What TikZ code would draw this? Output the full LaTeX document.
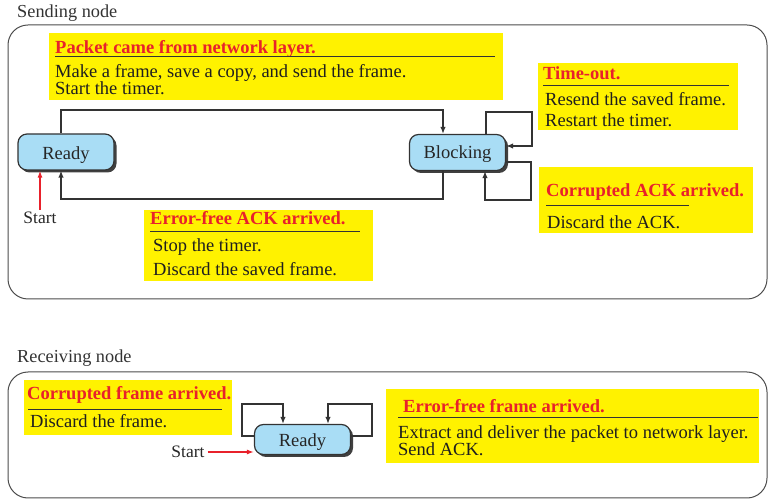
\documentclass[tikz,border=0pt]{standalone}
\usepackage{fontspec}
\setmainfont{Liberation Serif}
\usetikzlibrary{arrows.meta,shadows,calc}
\definecolor{hl}{HTML}{FFF200}
\definecolor{tred}{HTML}{E8212B}
\definecolor{sblue}{HTML}{A9DDF5}
\definecolor{ln}{HTML}{333333}
\begin{document}
\begin{tikzpicture}[x=1pt,y=-1pt,
  txt/.style={anchor=base west, inner sep=0pt, font=\fontsize{18.5}{21}\selectfont, text=black!88},
  ttl/.style={anchor=base west, inner sep=0pt, font=\fontsize{18.5}{21}\selectfont\bfseries, text=tred},
  lbl/.style={anchor=base west, inner sep=0pt, font=\fontsize{18.3}{21}\selectfont, text=black!80},
  hbox/.style={fill=hl, draw=none},
  state/.style={draw=ln, line width=1.2pt, fill=sblue, rounded corners=9pt, minimum width=96pt, minimum height=36pt, inner sep=0pt, text height=14.5pt, text depth=0pt, font=\fontsize{18.5}{21}\selectfont, text=black!85, drop shadow={shadow xshift=2.5pt, shadow yshift=-2.5pt, fill=black!75, opacity=1}},
  conn/.style={draw=ln, line width=1.5pt, -{Latex[length=7pt,width=5.5pt]}},
  startarr/.style={draw=tred, line width=1.2pt, -{Latex[length=7pt,width=5pt]}},
  outer/.style={draw=black!70, line width=1pt, rounded corners=20pt},
  uline/.style={draw=ln, line width=1pt},
  stxt/.style={inner sep=0pt, font=\fontsize{17.5}{20}\selectfont, text=black!85}]
\useasboundingbox (0,0) rectangle (777,502);

% ---------- Sending node ----------
\node[lbl] (slabel) at (17,18) {Sending node};
\draw[outer] (8,25) rectangle (767,299);

% yellow boxes
\fill[hbox] (49,33) rectangle (503,100);
\fill[hbox] (538,63) rectangle (738,130);
\fill[hbox] (539,167) rectangle (753,233);
\fill[hbox] (144,210) rectangle (373,281);

% packet box text
\node[ttl] (p1) at (55,54) {Packet came from network layer.};
\draw[uline] (55,57) -- (495,57);
\node[txt] (p2) at (55,78) {Make a frame, save a copy, and send the frame.};
\node[txt] (p3) at (55,95) {Start the timer.};

% time-out box
\node[ttl] (t1t) at (543,80) {Time-out.};
\draw[uline] (543,86) -- (729,86);
\node[txt] (t2t) at (545,106) {Resend the saved frame.};
\node[txt] (t3t) at (545,127) {Restart the timer.};

% corrupted ACK box
\node[ttl] (k1t) at (546,197) {Corrupted ACK arrived.};
\draw[uline] (546,206) -- (689,206);
\node[txt] (k2t) at (547,229) {Discard the ACK.};

% error-free ACK box
\node[ttl] (e1t) at (150,225) {Error-free ACK arrived.};
\draw[uline] (150,232) -- (360,232);
\node[txt] (e2t) at (153,252) {Stop the timer.};
\node[txt] (e3t) at (153,276) {Discard the saved frame.};

% states
\node[state] (ready) at (66,152) {Ready};
\node[state, text height=13pt] (blocking) at (457.5,152.5) {Blocking};

% Ready -> Blocking (top)
\coordinate (c1) at (61,110);
\coordinate (c2) at (443,110);
\draw[conn] (c1 |- ready.north) -- (c1) -- (c2) -- (c2 |- blocking.north);
% Blocking -> Ready (bottom)
\coordinate (c3) at (443,199);
\coordinate (c4) at (61,199);
\draw[conn] (c3 |- blocking.south) -- (c3) -- (c4) -- (c4 |- ready.south);
% time-out self loop
\coordinate (t1) at (486,112);
\coordinate (t2) at (532,112);
\coordinate (t3) at (532,146);
\draw[conn] (t1 |- blocking.north) -- (t1) -- (t2) -- (t3) -- (t3 -| blocking.east);
% corrupted ACK self loop
\coordinate (k1) at (531,162);
\coordinate (k2) at (531,200);
\coordinate (k3) at (485,200);
\draw[conn] (k1 -| blocking.east) -- (k1) -- (k2) -- (k3) -- (k3 |- blocking.south);

% start
\node[stxt] (start1) at (40,218) {Start};
\draw[startarr] ($(start1.north)+(0,-2)$) -- (start1.north |- ready.south);

% ---------- Receiving node ----------
\node[lbl] (rlabel) at (17,363) {Receiving node};
\draw[outer] (8,372) rectangle (767,498);

\fill[hbox] (24,380) rectangle (232,435);
\fill[hbox] (386,389) rectangle (759,463);

\node[ttl] (cf1) at (27,400) {Corrupted frame arrived.};
\draw[uline] (28,410) -- (222,410);
\node[txt] (cf2) at (30,428) {Discard the frame.};

\node[ttl] (ef1) at (403,413) {Error-free frame arrived.};
\draw[uline] (398,418) -- (758,418);
\node[txt] (ef2) at (398,439) {Extract and deliver the packet to network layer.};
\node[txt] (ef3) at (398,456) {Send ACK.};

\node[state, minimum height=30pt, text height=15pt] (ready2) at (302.5,439.5) {Ready};

\coordinate (l1) at (242,436);
\coordinate (l2) at (242,404);
\coordinate (l3) at (283,404);
\draw[conn] (l1 -| ready2.west) -- (l1) -- (l2) -- (l3) -- (l3 |- ready2.north);
\coordinate (r1) at (372,436);
\coordinate (r2) at (372,404);
\coordinate (r3) at (328,404);
\draw[conn] (r1 -| ready2.east) -- (r1) -- (r2) -- (r3) -- (r3 |- ready2.north);

\node[stxt] (start2) at (188,452) {Start};
\draw[startarr] ($(start2.east)+(3,0)$) -- (start2.east -| ready2.west);
\end{tikzpicture}
\end{document}
